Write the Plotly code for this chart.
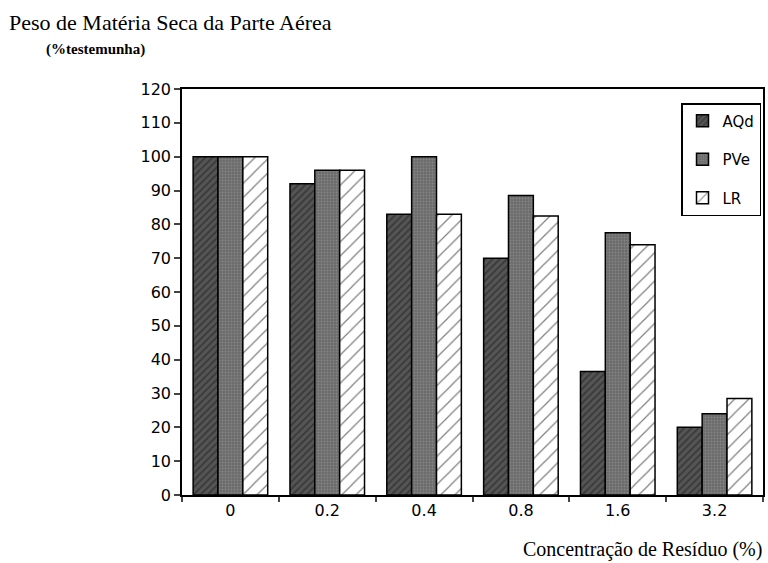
import plotly.graph_objects as go

categories = ["0", "0.2", "0.4", "0.8", "1.6", "3.2"]
aqd = [100, 92, 83, 70, 36.5, 20]
pve = [100, 96, 100, 88.5, 77.5, 24]
lr = [100, 96, 83, 82.5, 74, 28.5]
yticks = list(range(0, 121, 10))

fig = go.Figure()
fig.add_trace(go.Bar(
    x=categories, y=aqd, name="AQd", legendgroup="a",
    marker=dict(color="#505050", line=dict(color="black", width=1.5),
                pattern=dict(shape="/", bgcolor="#555555", fgcolor="#1e1e1e",
                             size=5, solidity=0.35, fillmode="overlay")),
))
fig.add_trace(go.Bar(
    x=categories, y=pve, name="PVe", legendgroup="b",
    marker=dict(color="#707070", line=dict(color="black", width=1.5),
                pattern=dict(shape=".", bgcolor="#6a6a6a", fgcolor="#a0a0a0",
                             size=3, solidity=0.35, fillmode="overlay")),
))
fig.add_trace(go.Bar(
    x=categories, y=lr, name="LR", legendgroup="c",
    marker=dict(color="white", line=dict(color="black", width=1.5),
                pattern=dict(shape="/", bgcolor="white", fgcolor="black",
                             size=10, solidity=0.12, fillmode="overlay")),
))

W, H = 768, 563
L, R, T, B = 182, 3, 89, 68
plot_w = W - L - R
plot_h = H - T - B

def px(x):
    return (x - L) / plot_w

def py(y):
    return (H - B - y) / plot_h

fig.update_layout(
    width=W, height=H,
    paper_bgcolor="white", plot_bgcolor="white",
    margin=dict(l=L, r=R, t=T, b=B),
    barmode="group", bargap=0.23, bargroupgap=0,
    font=dict(family="DejaVu Sans", size=16, color="black"),
    showlegend=True,
    legend=dict(x=px(763), y=py(103), xanchor="right", yanchor="top",
                bordercolor="black", borderwidth=1.5, bgcolor="white",
                font=dict(family="DejaVu Sans", size=15),
                itemwidth=30, tracegroupgap=16,
                entrywidth=65, entrywidthmode="pixels"),
    xaxis=dict(type="category", showline=True, linecolor="black", linewidth=1.5,
               mirror=True, ticks="outside", ticklen=5, tickwidth=1.5,
               tickson="boundaries", tickfont=dict(size=16, family="DejaVu Sans")),
    yaxis=dict(range=[0, 120], tickvals=yticks, showline=True, linecolor="black",
               linewidth=1.5, mirror=True, ticks="outside", ticklen=6, tickwidth=1.5,
               showgrid=False, zeroline=False,
               tickfont=dict(size=16, family="DejaVu Sans")),
    annotations=[
        dict(text="Peso de Matéria Seca da Parte Aérea", x=px(6), y=py(22),
             xref="paper", yref="paper", xanchor="left", yanchor="middle",
             showarrow=False, font=dict(family="Liberation Serif", size=22)),
        dict(text="<b>(%testemunha)</b>", x=px(44), y=py(50),
             xref="paper", yref="paper", xanchor="left", yanchor="middle",
             showarrow=False, font=dict(family="Liberation Serif", size=15)),
        dict(text="Concentração de Resíduo (%)", x=px(766), y=py(549),
             xref="paper", yref="paper", xanchor="right", yanchor="middle",
             showarrow=False, font=dict(family="Liberation Serif", size=20)),
    ],
)

fig.write_html("out.html", config={"displayModeBar": False},
               post_script="document.body.style.margin='0';")
